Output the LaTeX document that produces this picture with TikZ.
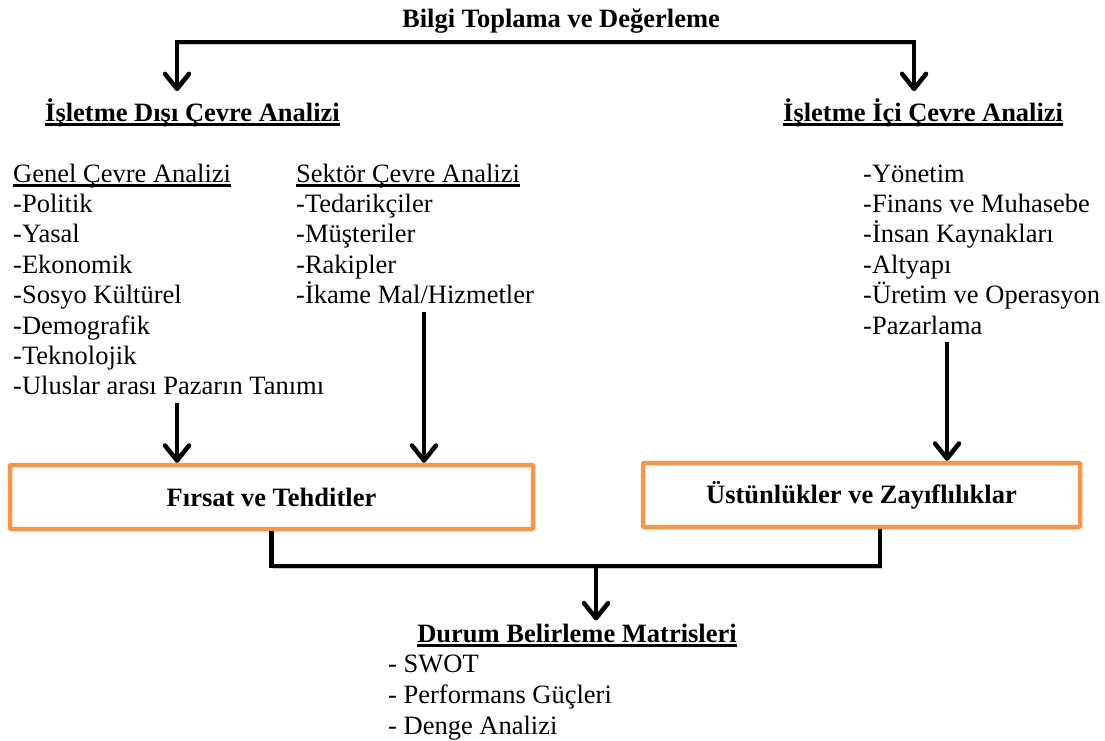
\documentclass[tikz,border=0pt]{standalone}
\usepackage{fontspec}
\setmainfont{Liberation Serif}
\usetikzlibrary{arrows.meta,calc}
\definecolor{boxorange}{HTML}{F79646}
\newsavebox\ulbox
% text with a rule drawn just under its baseline
\newcommand\ulined[1]{\sbox\ulbox{#1}\rlap{\rule[-0.17em]{\wd\ulbox}{0.085em}}\usebox\ulbox}

\begin{document}
\begin{tikzpicture}[x=1pt,y=-1pt,
  txt/.style={anchor=base west, inner sep=0pt, font=\fontsize{26.5}{30}\selectfont},
  headtxt/.style={anchor=base west, inner sep=0pt, font=\fontsize{26.5}{30}\selectfont\bfseries},
  conn/.style={line width=4.5pt, line join=miter, draw=black,
    preaction={draw=black!22, transform canvas={shift={(1.5pt,-1.8pt)}}}},
  barb/.tip={Straight Barb[length=15pt,width=24pt,round]},
  arr/.style={conn, -barb},
  twoarr/.style={conn, barb-barb},
  resbox/.style={draw=boxorange, line width=4.5pt, rounded corners=1pt, fill=white,
    inner sep=0pt, font=\fontsize{26.5}{30}\selectfont\bfseries}
]
\fill[white] (0,0) rectangle (1105,740);
\useasboundingbox (0,0) rectangle (1105,740);

% headings
\node[headtxt, anchor=base] (title) at (561,27) {Bilgi Toplama ve Değerleme};
\node[headtxt] (ext) at (45,121) {\ulined{İşletme Dışı Çevre Analizi}};
\node[headtxt] (int) at (783,121) {\ulined{İşletme İçi Çevre Analizi}};

% general environment column
\node[txt] (g0) at (13,182) {\ulined{Genel Çevre Analizi}};
\foreach \t [count=\i] in {-Politik,-Yasal,-Ekonomik,-Sosyo Kültürel,-Demografik,-Teknolojik,-Uluslar arası Pazarın Tanımı}
  \node[txt] (g\i) at (13,182+30.4*\i) {\t};

% sector column
\node[txt] (s0) at (296,182) {\ulined{Sektör Çevre Analizi}};
\foreach \t [count=\i] in {-Tedarikçiler,-Müşteriler,-Rakipler,-İkame Mal/Hizmetler}
  \node[txt] (s\i) at (296,182+30.4*\i) {\t};

% internal column
\foreach \t [count=\i from 0] in {-Yönetim,-Finans ve Muhasebe,-İnsan Kaynakları,-Altyapı,-Üretim ve Operasyon,-Pazarlama}
  \node[txt] (r\i) at (863,182+30.4*\i) {\t};

% result boxes
\node[resbox, minimum width=523pt, minimum height=64pt] (ft) at (271.5,497) {Fırsat ve Tehditler};
\node[resbox, minimum width=437pt, minimum height=64pt] (uz) at (861.5,495) {Üstünlükler ve Zayıflılıklar};

% matrices
\node[headtxt, anchor=base] (dm) at (577,642) {\ulined{Durum Belirleme Matrisleri}};
\node[txt] (m1) at (388,672) {- SWOT};
\node[txt] (m2) at (388,703) {- Performans Güçleri};
\node[txt] (m3) at (388,734) {- Denge Analizi};

% connectors
\coordinate (barL) at (177,42);
\coordinate (barR) at (914,42);
\draw[twoarr] (barL |- ext.north) ++(0,-7) -- (barL) -- (barR) -- ($(barR |- int.north)+(0,-7)$);

\draw[arr] (g7.south -| 177,0) ++(0,8) -- (ft.north -| 177,0);
\draw[arr] (s4.south -| 424,0) ++(0,8) -- (ft.north -| 424,0);
\draw[arr] (r5.south -| 947,0) ++(0,8) -- (uz.north -| 947,0);

\coordinate (join) at (596,566);
\draw[conn] (ft.south) |- (join) -| ([xshift=18.5pt]uz.south);
\draw[arr] (join) -- ($(join |- dm.north)+(0,-3)$);
\end{tikzpicture}
\end{document}
